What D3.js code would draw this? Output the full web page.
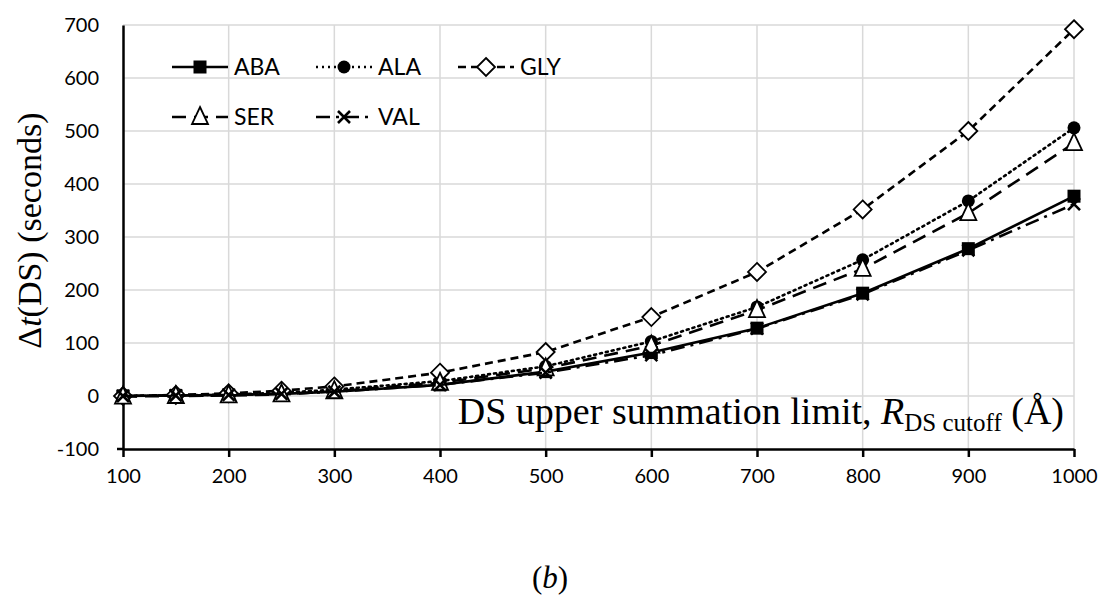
<!DOCTYPE html>
<html>
<head>
<meta charset="utf-8">
<title>DS cutoff timing</title>
<script src="https://d3js.org/d3.v7.min.js"></script>
<style>
  body { margin: 0; background: #fff; }
  svg text { fill: #000; }
</style>
</head>
<body>
<script>
// data
const cutoffs = [100, 150, 200, 250, 300, 400, 500, 600, 700, 800, 900, 1000];
const aba = [0, 1, 2, 4, 8, 21, 46, 82, 128, 194, 278, 377];
const ala = [0, 1, 3, 6, 12, 28, 56, 103, 168, 257, 368, 506];
const gly = [0, 2, 5, 10, 18, 44, 83, 149, 234, 352, 500, 692];
const ser = [-1, 0, 1, 3, 9, 25, 52, 95, 162, 240, 345, 477];
const val = [0, 1, 2, 4, 8, 21, 44, 77, 127, 192, 275, 362];
const xTicks = [100, 200, 300, 400, 500, 600, 700, 800, 900, 1000];
const yTicks = [-100, 0, 100, 200, 300, 400, 500, 600, 700];

const series = [
  {name: "ABA", values: aba, dash: null, marker: "square"},
  {name: "ALA", values: ala, dash: "2,4", marker: "circle"},
  {name: "GLY", values: gly, dash: "8,5", marker: "diamond"},
  {name: "SER", values: ser, dash: "14,8", marker: "triangle"},
  {name: "VAL", values: val, dash: "14,6,3,6", marker: "cross"}
];

const W = 1104, H = 602;
const margin = {top: 25, right: 30, bottom: 153, left: 123};
const width = W - margin.left - margin.right,
      height = H - margin.top - margin.bottom;

const svg = d3.select("body").append("svg")
    .attr("width", W).attr("height", H);
const g = svg.append("g")
    .attr("transform", `translate(${margin.left},${margin.top})`);

const x = d3.scaleLinear().domain([100, 1000]).range([0, width]);
const y = d3.scaleLinear().domain([-100, 700]).range([height, 0]);

const plain = d => String(d);   // hyphen minus, no thousands comma

// gridlines
g.append("g").selectAll("line").data(yTicks.slice(1)).join("line")
    .attr("x1", 0).attr("x2", width)
    .attr("y1", d => y(d)).attr("y2", d => y(d))
    .attr("stroke", "#d9d9d9").attr("stroke-width", 1.5);
g.append("g").selectAll("line").data(xTicks.slice(1)).join("line")
    .attr("x1", d => x(d)).attr("x2", d => x(d))
    .attr("y1", 0).attr("y2", height)
    .attr("stroke", "#d9d9d9").attr("stroke-width", 1.5);

// axes
const xAxis = g.append("g")
    .attr("transform", `translate(0,${height})`)
    .call(d3.axisBottom(x).tickValues(xTicks).tickFormat(plain)
      .tickSizeInner(8).tickSizeOuter(0).tickPadding(12));
const yAxis = g.append("g")
    .call(d3.axisLeft(y).tickValues(yTicks).tickFormat(plain).tickSize(0).tickPadding(24));
[xAxis, yAxis].forEach(a => {
  a.select(".domain").attr("stroke", "#000").attr("stroke-width", 2.5);
  a.selectAll(".tick line").attr("stroke", "#000").attr("stroke-width", 2.5);
  a.selectAll(".tick text")
    .style("font-family", "Lato, 'Open Sans', sans-serif")
    .style("font-size", "20px");
});
yAxis.selectAll(".tick line").remove();
// small outside stub where the axes meet
g.append("line").attr("x1", -6).attr("x2", 0)
    .attr("y1", height).attr("y2", height)
    .attr("stroke", "#000").attr("stroke-width", 2.5);

// lines
const line = d3.line().x(d => x(d[0])).y(d => y(d[1]));

function drawMarker(sel, type) {
  if (type === "square") {
    sel.append("rect").attr("x", -6.5).attr("y", -6.5).attr("width", 13).attr("height", 13)
      .attr("fill", "#000");
  } else if (type === "circle") {
    sel.append("circle").attr("r", 6.5).attr("fill", "#000");
  } else if (type === "diamond") {
    sel.append("path").attr("d", "M0,-9L9,0L0,9L-9,0Z")
      .attr("fill", "#fff").attr("stroke", "#000").attr("stroke-width", 1.8);
  } else if (type === "triangle") {
    sel.append("path").attr("d", "M0,-10L8,7L-8,7Z")
      .attr("fill", "#fff").attr("stroke", "#000").attr("stroke-width", 1.8);
  } else if (type === "cross") {
    sel.append("path").attr("d", "M-6,-6L6,6M6,-6L-6,6")
      .attr("fill", "none").attr("stroke", "#000").attr("stroke-width", 2.6);
  }
}

series.forEach(s => {
  const pts = cutoffs.map((c, i) => [c, s.values[i]]);
  g.append("path").datum(pts)
    .attr("d", line)
    .attr("fill", "none").attr("stroke", "#000")
    .attr("stroke-width", 2.6)
    .attr("stroke-dasharray", s.dash)
    .attr("stroke-linecap", s.marker === "circle" ? "round" : "butt");
  g.append("g").selectAll("g").data(pts).join("g")
    .attr("transform", d => `translate(${x(d[0])},${y(d[1])})`)
    .each(function() { drawMarker(d3.select(this), s.marker); });
});

// legend
const legendPos = [[172, 67], [316, 67], [458, 67], [172, 117], [316, 117]];
series.forEach((s, i) => {
  const [lx, ly] = legendPos[i];
  const lg = svg.append("g").attr("transform", `translate(${lx},${ly})`);
  lg.append("line").attr("x1", 0).attr("x2", 56).attr("y1", 0).attr("y2", 0)
    .attr("stroke", "#000").attr("stroke-width", 2.6)
    .attr("stroke-dasharray", s.dash);
  const m = lg.append("g").attr("transform", "translate(28,0)");
  drawMarker(m, s.marker);
  lg.append("text").attr("x", 62).attr("y", 8)
    .style("font-family", "Lato, 'Open Sans', sans-serif")
    .style("font-size", "23px")
    .text(s.name);
});

// axis titles
const yt = svg.append("text")
    .attr("transform", `translate(41,${margin.top + y(312)}) rotate(-90)`)
    .attr("text-anchor", "middle")
    .style("font-family", "'Liberation Serif', 'Times New Roman', serif")
    .style("font-size", "34px");
yt.append("tspan").text("Δ");
yt.append("tspan").style("font-style", "italic").text("t");
yt.append("tspan").text("(DS) (seconds)");

const xt = svg.append("text")
    .attr("x", margin.left + width - 10).attr("y", 424)
    .attr("text-anchor", "end")
    .style("font-family", "'Liberation Serif', 'Times New Roman', serif")
    .style("font-size", "38px");
xt.append("tspan").text("DS upper summation limit, ");
xt.append("tspan").style("font-style", "italic").text("R");
xt.append("tspan").attr("dy", 7).style("font-size", "25px").text("DS cutoff");
xt.append("tspan").attr("dy", -7).text(" (Å)");

const cap = svg.append("text")
    .attr("x", 550).attr("y", 588)
    .attr("text-anchor", "middle")
    .style("font-family", "'Liberation Serif', 'Times New Roman', serif")
    .style("font-size", "31px");
cap.append("tspan").text("(");
cap.append("tspan").style("font-style", "italic").text("b");
cap.append("tspan").text(")");
</script>
</body>
</html>
